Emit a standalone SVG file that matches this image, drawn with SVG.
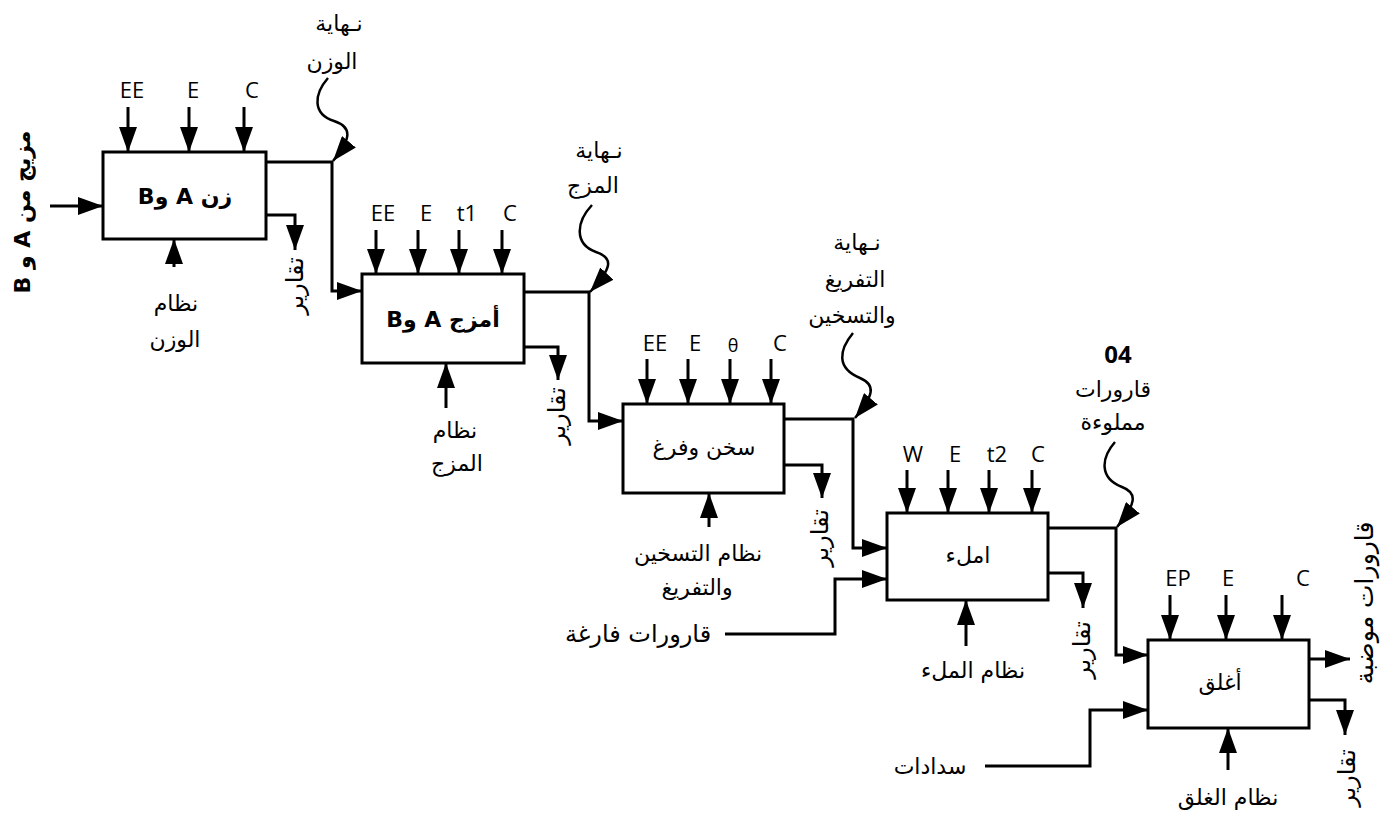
<svg xmlns="http://www.w3.org/2000/svg" width="1386" height="816" viewBox="0 0 1386 816">
<defs>
<marker id="ah" viewBox="0 0 25 18" refX="25" refY="9" markerWidth="25" markerHeight="18" markerUnits="userSpaceOnUse" orient="auto"><path d="M0,0 L25,9 L0,18 z" fill="#000"/></marker>
<style>
.box{fill:#fff;stroke:#000;stroke-width:3}
.ln{fill:none;stroke:#000;stroke-width:3;marker-end:url(#ah)}
.sq{fill:none;stroke:#000;stroke-width:2.5;marker-end:url(#ah)}
.lat{font-family:"Open Sans","Liberation Sans",sans-serif;font-size:22px;text-anchor:middle;dominant-baseline:central;fill:#000}
.ar{font-family:"DejaVu Sans","Liberation Sans",sans-serif;font-size:22px;text-anchor:middle;dominant-baseline:central;direction:rtl;fill:#000}
.bx{font-size:22px}
.vr{font-size:24px}
.b{font-weight:bold}
</style>
</defs>
<rect width="1386" height="816" fill="#fff"/>
<g id="connectors">
<path class="ln" d="M50,206 H103"/>
<path class="ln" d="M128,107 V152"/><path class="ln" d="M189,107 V152"/><path class="ln" d="M244,107 V152"/>
<path class="ln" d="M174,267 V239"/>
<path class="ln" d="M266,215 H295 V250"/>
<path class="ln" d="M266,162 H332 V291 H362"/>
<path class="sq" d="M328,78 C314,94 312,114 334,121 C352,127 352,138 333,161"/>
<path class="ln" d="M376,230 V274"/><path class="ln" d="M418,230 V274"/><path class="ln" d="M459,230 V274"/><path class="ln" d="M502,230 V274"/>
<path class="ln" d="M446,408 V363"/>
<path class="ln" d="M524,347 H558 V380"/>
<path class="ln" d="M524,292 H589 V421 H623"/>
<path class="sq" d="M592,205 C576,222 574,244 596,252 C614,258 612,268 590,292"/>
<path class="ln" d="M647,359 V404"/><path class="ln" d="M688,359 V404"/><path class="ln" d="M730,359 V404"/><path class="ln" d="M771,359 V404"/>
<path class="ln" d="M709,527 V493"/>
<path class="ln" d="M784,465 H822 V498"/>
<path class="ln" d="M784,419 H853 V548 H887"/>
<path class="sq" d="M853,333 C839,350 836,368 860,378 C876,385 874,395 855,418"/>
<path class="ln" d="M907,470 V513"/><path class="ln" d="M948,470 V513"/><path class="ln" d="M989,470 V513"/><path class="ln" d="M1032,470 V513"/>
<path class="ln" d="M725,634 H835 V579 H887"/>
<path class="ln" d="M966,646 V600"/>
<path class="ln" d="M1048,573 H1083 V608"/>
<path class="ln" d="M1048,528 H1116 V655 H1148"/>
<path class="sq" d="M1115,442 C1101,458 1099,478 1122,487 C1138,493 1136,504 1117,527"/>
<path class="ln" d="M1170,595 V640"/><path class="ln" d="M1226,595 V640"/><path class="ln" d="M1282,595 V640"/>
<path class="ln" d="M985,766 H1090 V710 H1148"/>
<path class="ln" d="M1228,770 V728"/>
<path class="ln" d="M1309,659 H1350"/>
<path class="ln" d="M1309,700 H1345 V735"/>
</g>
<g id="node1">
<rect class="box" x="103" y="152" width="163" height="87"/>
<text class="ar bx b" x="185" y="196">زن A وB</text>
<text class="lat" x="132" y="89">EE</text><text class="lat" x="193" y="89">E</text><text class="lat" x="252" y="89">C</text>
<text class="ar" x="176" y="303">نظام</text><text class="ar" x="175" y="339">الوزن</text>
<text class="ar vr" transform="translate(295,286) rotate(-90)">تقارير</text>
<text class="ar b" transform="translate(22,212) rotate(-90)">مزيج من A و B</text>
<text class="ar" x="339" y="23">نـهاية</text><text class="ar" x="332" y="61">الوزن</text>
</g>
<g id="node2">
<rect class="box" x="362" y="274" width="162" height="89"/>
<text class="ar bx b" x="443" y="319">أمزج A وB</text>
<text class="lat" x="383" y="212">EE</text><text class="lat" x="426" y="212">E</text><text class="lat" x="467" y="212">t1</text><text class="lat" x="510" y="212">C</text>
<text class="ar" x="455" y="430">نظام</text><text class="ar" x="457" y="463">المزج</text>
<text class="ar vr" transform="translate(557,416) rotate(-90)">تقارير</text>
<text class="ar" x="599" y="150">نـهاية</text><text class="ar" x="593" y="185">المزج</text>
</g>
<g id="node3">
<rect class="box" x="623" y="404" width="161" height="89"/>
<text class="ar bx" x="704" y="447">سخن وفرغ</text>
<text class="lat" x="655" y="342">EE</text><text class="lat" x="695" y="342">E</text><text class="lat" x="733" y="345" style="font-size:18px">θ</text><text class="lat" x="780" y="342">C</text>
<text class="ar" x="698" y="553">نظام التسخين</text><text class="ar" x="697" y="587">والتفريغ</text>
<text class="ar vr" transform="translate(820,538) rotate(-90)">تقارير</text>
<text class="ar" x="857" y="242">نـهاية</text><text class="ar" x="855" y="279">التفريغ</text><text class="ar" x="852" y="315">والتسخين</text>
</g>
<g id="node4">
<rect class="box" x="887" y="513" width="161" height="87"/>
<text class="ar bx" x="968" y="555">املء</text>
<text class="lat" x="913" y="453">W</text><text class="lat" x="955" y="453">E</text><text class="lat" x="997" y="453">t2</text><text class="lat" x="1038" y="453">C</text>
<text class="ar" x="973" y="670">نظام الملء</text>
<text class="ar vr" transform="translate(1082,650) rotate(-90)">تقارير</text>
<text class="ar" x="638" y="634" style="font-size:24px">قارورات فارغة</text>
<text class="lat b" x="1118" y="353" style="font-size:24px">04</text>
<text class="ar" x="1113" y="389">قارورات</text><text class="ar" x="1113" y="422">مملوءة</text>
</g>
<g id="node5">
<rect class="box" x="1148" y="640" width="161" height="88"/>
<text class="ar bx" x="1220" y="682">أغلق</text>
<text class="lat" x="1178" y="577">EP</text><text class="lat" x="1228" y="577">E</text><text class="lat" x="1303" y="577">C</text>
<text class="ar" x="1228" y="797">نظام الغلق</text>
<text class="ar vr" transform="translate(1347,778) rotate(-90)">تقارير</text>
<text class="ar" transform="translate(1364,603) rotate(-90)" style="font-size:25px">قارورات موضبة</text>
<text class="ar" x="930" y="766">سدادات</text>
</g>
</svg>
